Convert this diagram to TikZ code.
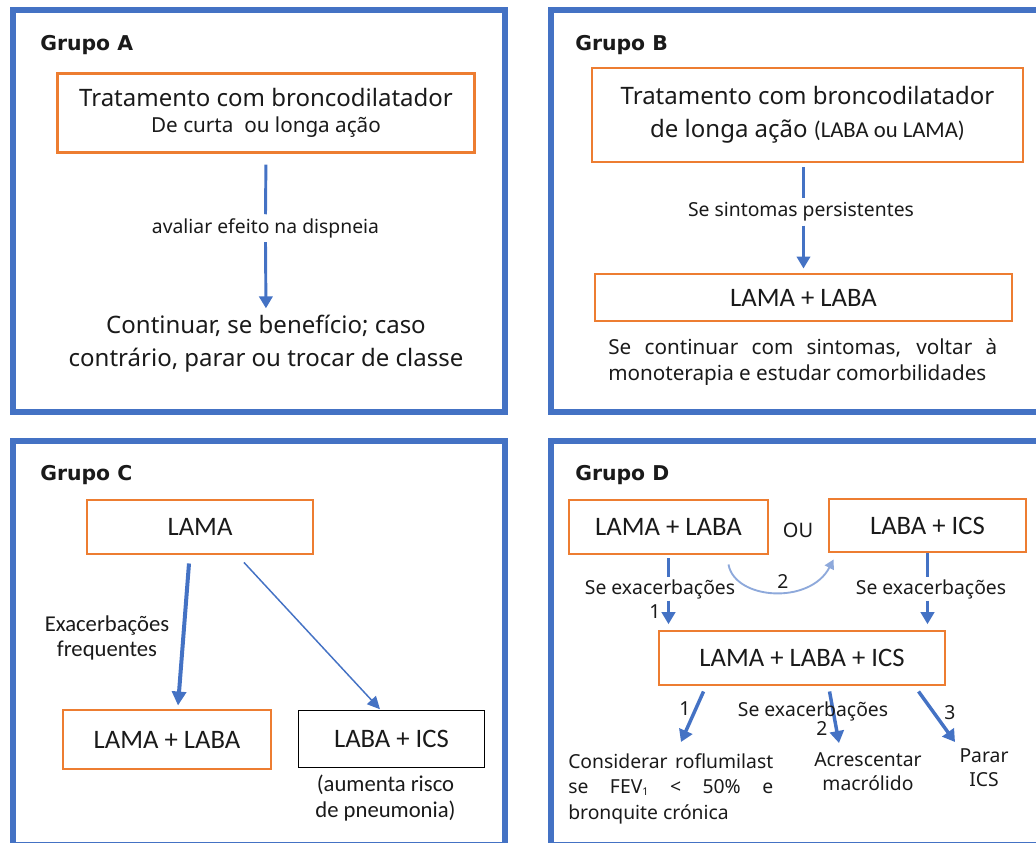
\documentclass[tikz,border=0pt]{standalone}
\usepackage{fontspec}
\setmainfont{Noto Sans}
\newfontfamily\calfont{Carlito}
\newfontfamily\grpfont{DejaVu Sans}
\usetikzlibrary{arrows.meta,calc}
\definecolor{frameblue}{HTML}{4472C4}
\definecolor{boxorange}{HTML}{ED7D31}
\definecolor{curveblue}{HTML}{8EA9DB}
\definecolor{txt}{HTML}{1A1A1A}
\tikzset{
  frame/.style={draw=frameblue, line width=4.5pt},
  obox/.style={draw=boxorange, line width=2.2pt, inner sep=0pt, align=center, text=txt, font=\calfont\fontsize{20}{24}\selectfont},
  kbox/.style={draw=black, line width=1.1pt, inner sep=0pt, align=center, text=txt, font=\calfont\fontsize{20}{24}\selectfont},
  grp/.style={anchor=base west, inner sep=0pt, text=txt, font=\grpfont\bfseries\fontsize{15.3}{18}\selectfont},
  lbl/.style={anchor=base, inner sep=3pt, text=txt, font=\fontsize{14.5}{17}\selectfont},
  lbld/.style={anchor=base, inner sep=1.2pt, text=txt, font=\fontsize{14.5}{17}\selectfont},
  num/.style={anchor=base, inner sep=0pt, text=txt, font=\fontsize{14.5}{17}\selectfont},
  para/.style={inner sep=0pt, text=txt},
  seg/.style={draw=frameblue, line width=2.2pt},
  arr/.style={seg, -{Triangle[width=10pt,length=9pt]}},
  arrT/.style={draw=frameblue, line width=3pt, -{Triangle[width=10.5pt,length=10.5pt]}},
  arrt/.style={draw=frameblue, line width=1.1pt, -{Triangle[width=9pt,length=9.5pt]}},
  arrD/.style={draw=frameblue, line width=2.6pt, -{Triangle[width=10.5pt,length=9pt]}},
  arrc/.style={draw=curveblue, line width=1.4pt, -{Triangle[width=7.5pt,length=7pt]}},
}
\newcommand{\subone}{\raisebox{-1.5pt}{\fontsize{8}{9}\selectfont 1}}
\begin{document}
\begin{tikzpicture}[x=0.75pt,y=-0.75pt]
\useasboundingbox (0,0) rectangle (1036,843);
\begin{scope}
  \clip (0,0) rectangle (1036,843);
  \draw[frame] (13,10) rectangle (505,412);
  \draw[frame] (550.5,10) rectangle (1045,412);
  \draw[frame] (13,441) rectangle (505,845);
  \draw[frame] (550.5,441) rectangle (1045,845);
\end{scope}

% ---------------- Grupo A
\node[grp] (gA) at (40,50) {Grupo A};
\node[obox, font=\fontsize{18}{19.5}\selectfont, minimum width=312.75pt, minimum height=59.25pt] (a1) at (266,113)
  {Tratamento com broncodilatador\\{\fontsize{15.5}{19.5}\selectfont De curta\ \ ou longa ação}};
\node[lbl] (aL) at (265.5,233.3) {avaliar efeito na dispneia};
\node[para, align=center, anchor=north, font=\fontsize{18}{24.3}\selectfont] (a2) at (266,315)
  {Continuar, se benefício; caso\\contrário, parar ou trocar de classe};
\draw[seg, shorten <=8pt] (a1.south) -- (aL.north);
\draw[arr, shorten >=5pt] (aL.south) -- (a2.north);

% ---------------- Grupo B
\node[grp] (gB) at (575,50) {Grupo B};
\node[obox, font=\fontsize{18}{25}\selectfont, minimum width=323.25pt, minimum height=70.5pt] (b1) at (807.5,115)
  {Tratamento com broncodilatador\\de longa ação {\calfont\fontsize{17}{25}\selectfont(LABA ou LAMA)}};
\node[lbl] (bL) at (801,216.7) {Se sintomas persistentes};
\node[obox, minimum width=312.75pt, minimum height=35.25pt] (b2) at (803.5,297.5) {LAMA + LABA};
\draw[seg, shorten <=3pt] (b1.south -| b2.north) -- (bL.north -| b2.north);
\draw[arr, shorten >=3pt] (bL.south -| b2.north) -- (b2.north);
\node[para, anchor=north west, text width=291.75pt, align=justify, font=\fontsize{15.5}{20}\selectfont] (b3) at (608,338)
  {\parfillskip=0pt Se continuar com sintomas, voltar à\linebreak monoterapia e estudar comorbilidades};

% ---------------- Grupo C
\node[grp] (gC) at (40,480) {Grupo C};
\node[obox, minimum width=169.5pt, minimum height=40.5pt] (c1) at (200,527) {LAMA};
\node[obox, minimum width=156pt, minimum height=44.25pt] (c2) at (167,739.5) {LAMA + LABA};
\node[kbox, minimum width=139.5pt, minimum height=42.75pt] (c3) at (391.5,739) {LABA + ICS};
\node[para, align=center, anchor=north, font=\calfont\fontsize{17}{18.75}\selectfont] (cL) at (107,615) {Exacerbações\\frequentes};
\node[para, align=center, anchor=north, font=\calfont\fontsize{17}{19.5}\selectfont] (cN) at (385.5,775) {(aumenta risco\\de pneumonia)};
\draw[arrT] ($(c1.south)+(-11,8)$) -- ($(c2.north)+(11,-3)$);
\draw[arrt] ($(c1.south)+(44,7)$) -- ($(c3.north)+(-11.5,-0.5)$);

% ---------------- Grupo D
\node[grp] (gD) at (575,480) {Grupo D};
\node[obox, minimum width=149.25pt, minimum height=40.5pt] (d1) at (668.5,527) {LAMA + LABA};
\node[num, font=\fontsize{15}{18}\selectfont] (dou) at (798,537) {OU};
\node[obox, minimum width=147.75pt, minimum height=39.75pt] (d2) at (927.5,525.5) {LABA + ICS};
\node[obox, minimum width=214.5pt, minimum height=40.5pt] (d3) at (802,658) {LAMA + LABA + ICS};

\node[lbld] (dLl) at (660,594) {Se exacerbações};
\node[lbld] (dLr) at (931,594) {Se exacerbações};
\draw[seg, shorten <=2pt] (d1.south) -- (d1.south |- dLl.north);
\draw[arr, shorten >=4pt] (d1.south |- dLl.south) -- (d1.south |- d3.north);
\draw[seg] (d2.south) -- (d2.south |- dLr.north);
\draw[arr, shorten >=4pt] (d2.south |- dLr.south) -- (d2.south |- d3.north);
\node[num] (n1) at (655,618) {1};

\coordinate (c2s) at ($(d1.south east)+(-41,9)$);
\coordinate (c2e) at ($(d2.south west)+(6,6)$);
\draw[arrc] (c2s) .. controls (735,600) and (810,605) .. (c2e);
\node[num] (n2) at (783,588) {2};

\node[para, anchor=north west, text width=153.75pt, align=justify, font=\fontsize{14.5}{19.25}\selectfont] (e1) at (568,753)
  {Considerar roflumilast\linebreak se FEV\subone{} < 50\% e\linebreak bronquite crónica};
\node[para, anchor=north, align=center, font=\fontsize{14.5}{18.25}\selectfont] (e2) at (868,752) {Acrescentar\\macrólido};
\node[para, anchor=north, align=center, font=\fontsize{14.5}{18.25}\selectfont] (e3) at (984,748.5) {Parar\\ICS};

\draw[arrD] ($(d3.south west)+(46,5)$) -- ($(e1.north west)+(113,-11)$);
\draw[arrD] ($(d3.south west)+(172,5)$) -- ($(e2.north)+(-29,-9)$);
\draw[arrD] ($(d3.south west)+(261,5)$) -- ($(e3.north)+(-29,-6.5)$);
\node[lbld] (dLm) at (813,716) {Se exacerbações};
\node[num] (n1b) at (685,715) {1};
\node[num] (n2b) at (822,735) {2};
\node[num] (n3) at (950,719) {3};
\end{tikzpicture}
\end{document}
